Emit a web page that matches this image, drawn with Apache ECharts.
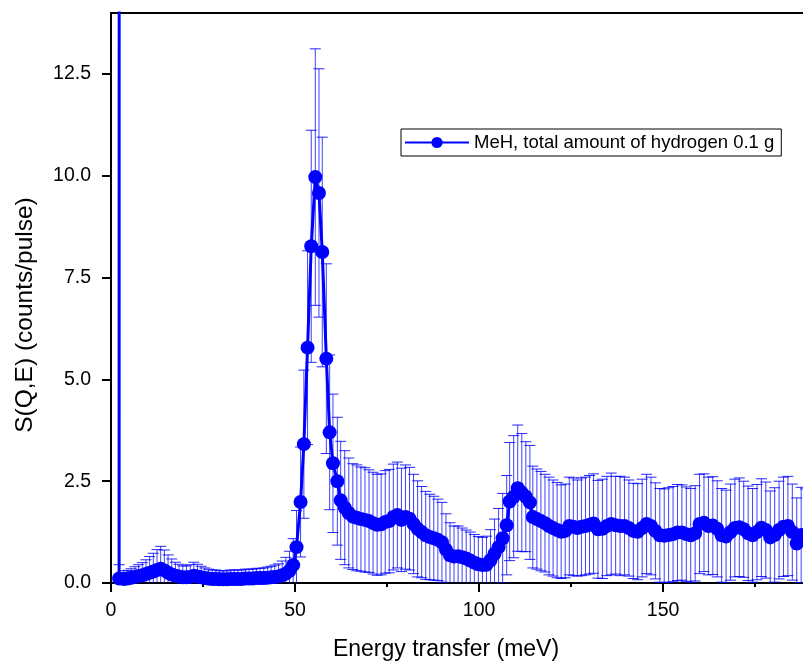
<!DOCTYPE html>
<html>
<head>
<meta charset="utf-8">
<script src="https://cdn.jsdelivr.net/npm/echarts@6/dist/echarts.min.js"></script>
<style>html,body{margin:0;padding:0;background:#fff;}#chart{width:803px;height:663px;}</style>
</head>
<body>
<div id="chart"></div>
<script>
// Energy transfer (meV)
const energy = [
 2.25, 2.2, 3.5, 4.5, 5.5, 6.5, 7.5, 8.5, 9.5, 10.5, 11.5, 12.5, 13.5, 14.5, 15.5, 16.5, 17.5, 18.5, 19.5, 20.5,
 21.5, 22.5, 23.5, 24.5, 25.5, 26.5, 27.5, 28.5, 29.5, 30.5, 31.5, 32.5, 33.5, 34.5, 35.5, 36.5, 37.5, 38.5, 39.5,
 40.5, 41.5, 42.5, 43.5, 44.5, 45.5, 46.5, 47.5, 48.5, 49.5,
 50.4, 51.5, 52.4, 53.4, 54.4, 55.5, 56.5, 57.4, 58.5, 59.4, 60.3, 61.5, 62.4,
 63.5, 64.6, 65.7, 66.8, 67.9, 69.0, 70.1, 71.2, 72.3, 73.4, 74.5, 75.6, 76.7, 77.8, 78.9, 80.0, 81.1, 82.2, 83.3,
 84.4, 85.5, 86.6, 87.7, 88.8, 89.9, 91.0, 92.1, 93.2, 94.3, 95.4, 96.5, 97.6, 98.7, 99.8, 100.9, 102.0, 103.1,
 104.2, 105.3, 106.4, 107.5, 108.3, 109.4, 110.5, 111.6, 112.7, 113.8, 114.6, 115.7, 116.8, 117.9, 119.0, 120.1,
 121.2, 122.3, 123.4, 124.5, 125.6, 126.7, 127.8, 128.9, 130.0, 131.1,
 132.3, 133.5, 134.7, 135.9, 137.1, 138.3, 139.5, 140.7, 141.9, 143.1, 144.3, 145.5, 146.7, 147.9, 149.1, 150.3,
 151.5, 152.7, 153.9, 155.1, 156.3, 157.5, 158.7, 159.9, 161.1, 162.3, 163.5, 164.7, 165.9, 167.1, 168.3, 169.5,
 170.7, 171.9, 173.1, 174.3, 175.5, 176.7, 177.9, 179.1, 180.3, 181.5, 182.7, 183.9, 185.1, 186.3, 187.5, 188.7
];
// S(Q,E) (counts/pulse)
const sqe = [
 40, 0.11, 0.10, 0.11, 0.13, 0.15, 0.17, 0.19, 0.22, 0.25, 0.28, 0.32, 0.35, 0.31, 0.25, 0.21, 0.18, 0.16, 0.14, 0.14,
 0.15, 0.18, 0.16, 0.14, 0.12, 0.11, 0.10, 0.10, 0.09, 0.09, 0.09, 0.10, 0.10, 0.10, 0.10, 0.11, 0.11, 0.11, 0.12,
 0.12, 0.12, 0.13, 0.14, 0.15, 0.16, 0.19, 0.23, 0.30, 0.44,
 0.88, 1.99, 3.41, 5.78, 8.27, 9.97, 9.58, 8.13, 5.51, 3.70, 2.94, 2.50, 2.03,
 1.85, 1.72, 1.63, 1.60, 1.57, 1.55, 1.52, 1.47, 1.43, 1.44, 1.50, 1.52, 1.62, 1.67, 1.55, 1.62, 1.58, 1.45, 1.33,
 1.25, 1.17, 1.13, 1.10, 1.06, 1.00, 0.82, 0.68, 0.65, 0.66, 0.63, 0.60, 0.55, 0.50, 0.46, 0.44, 0.45, 0.56,
 0.72, 0.88, 1.10, 1.42, 2.00, 2.12, 2.33, 2.22, 2.12, 1.98, 1.62, 1.57, 1.52, 1.47, 1.40, 1.35,
 1.30, 1.26, 1.28, 1.40, 1.38, 1.35, 1.38, 1.40, 1.43, 1.46,
 1.32, 1.33, 1.40, 1.45, 1.42, 1.40, 1.40, 1.35, 1.28, 1.26, 1.35, 1.45, 1.40, 1.28, 1.17, 1.16,
 1.18, 1.20, 1.24, 1.24, 1.20, 1.17, 1.22, 1.45, 1.48, 1.40, 1.41, 1.33, 1.17, 1.14, 1.25, 1.35,
 1.37, 1.32, 1.22, 1.17, 1.25, 1.36, 1.30, 1.12, 1.18, 1.30, 1.38, 1.40, 1.25, 0.97, 1.18, 1.15
];
// error (± counts/pulse)
const sqeErr = [
 0, 0.34, 0.20, 0.20, 0.22, 0.25, 0.28, 0.31, 0.35, 0.40, 0.45, 0.50, 0.55, 0.50, 0.44, 0.38, 0.33, 0.30, 0.28, 0.28,
 0.30, 0.33, 0.30, 0.27, 0.25, 0.23, 0.22, 0.22, 0.21, 0.21, 0.21, 0.22, 0.22, 0.22, 0.22, 0.23, 0.23, 0.23, 0.24,
 0.24, 0.25, 0.26, 0.27, 0.29, 0.31, 0.35, 0.40, 0.48, 0.65,
 0.90, 1.35, 1.82, 2.38, 2.85, 3.15, 3.05, 2.82, 2.33, 1.90, 1.70, 1.57, 1.45,
 1.40, 1.35, 1.30, 1.30, 1.28, 1.28, 1.26, 1.25, 1.24, 1.24, 1.26, 1.27, 1.30, 1.30, 1.27, 1.28, 1.26, 1.22, 1.18,
 1.12, 1.08, 1.05, 1.03, 1.00, 0.98, 0.88, 0.80, 0.75, 0.74, 0.72, 0.70, 0.70, 0.69, 0.68, 0.68, 0.70, 0.75,
 0.85, 0.95, 1.10, 1.22, 1.45, 1.50, 1.55, 1.45, 1.35, 1.40, 1.25, 1.23, 1.22, 1.20, 1.20, 1.18,
 1.17, 1.15, 1.15, 1.20, 1.20, 1.18, 1.20, 1.20, 1.21, 1.22,
 1.20, 1.22, 1.22, 1.25, 1.20, 1.22, 1.20, 1.18, 1.17, 1.18, 1.20, 1.22, 1.20, 1.18, 1.15, 1.15,
 1.16, 1.17, 1.18, 1.17, 1.16, 1.15, 1.17, 1.22, 1.20, 1.20, 1.20, 1.18, 1.15, 1.14, 1.18, 1.20,
 1.21, 1.18, 1.16, 1.15, 1.17, 1.20, 1.18, 1.14, 1.16, 1.20, 1.22, 1.22, 1.18, 1.12, 1.17, 1.16
];
const xMajorTicks = [0, 50, 100, 150];
const xMinorTicks = [25, 75, 125, 175];
const yTicks = [0, 2.5, 5, 7.5, 10, 12.5];
const seriesName = 'MeH, total amount of hydrogen 0.1 g';
const xTitle = 'Energy transfer (meV)';
const yTitle = 'S(Q,E) (counts/pulse)';

const FONT = '"Liberation Sans", Arial, sans-serif';
const lineData = energy.map((e, i) => [e, sqe[i]]);
const errData = [];
energy.forEach((e, i) => { if (sqeErr[i] > 0) errData.push([e, sqe[i] - sqeErr[i], sqe[i] + sqeErr[i]]); });

const chart = echarts.init(document.getElementById('chart'), null, {renderer: 'canvas'});
const axisLineStyle = {color: '#000', width: 2};
chart.setOption({
  animation: false,
  backgroundColor: '#fff',
  grid: {left: 111, right: 0, top: 13, bottom: 80, containLabel: false},
  legend: {
    data: [seriesName],
    left: 401, top: 129,
    orient: 'horizontal',
    borderColor: '#000', borderWidth: 1, borderRadius: 0,
    padding: [4, 7, 4, 3],
    itemWidth: 64, itemHeight: 14, itemGap: 4,
    textStyle: {fontFamily: FONT, fontSize: 18.5, color: '#000', padding: [0, 0, 0, 0]}
  },
  xAxis: [
    {
      type: 'value', min: 0, max: 188, interval: 50, position: 'bottom',
      axisLine: {show: true, onZero: false, lineStyle: axisLineStyle},
      axisTick: {show: true, length: 9, lineStyle: {color: '#000', width: 2}, customValues: xMajorTicks},
      axisLabel: {customValues: xMajorTicks, fontFamily: FONT, fontSize: 19.5, color: '#000', margin: 18},
      splitLine: {show: false}
    },
    {
      type: 'value', min: 0, max: 188, interval: 25, position: 'bottom',
      axisLine: {show: false, onZero: false},
      axisTick: {show: true, length: 4, lineStyle: {color: '#000', width: 2}, customValues: xMinorTicks},
      axisLabel: {show: false},
      splitLine: {show: false}
    },
    {
      type: 'value', min: 0, max: 188, position: 'top',
      axisLine: {show: true, onZero: false, lineStyle: axisLineStyle},
      axisTick: {show: false}, axisLabel: {show: false}, splitLine: {show: false}
    }
  ],
  yAxis: {
    type: 'value', min: 0, max: 14, interval: 2.5,
    axisLine: {show: true, onZero: false, lineStyle: axisLineStyle},
    axisTick: {show: true, length: 9, lineStyle: {color: '#000', width: 2}, customValues: yTicks},
    axisLabel: {customValues: yTicks, fontFamily: FONT, fontSize: 19.5, color: '#000', margin: 20,
      formatter: v => v.toFixed(1)},
    splitLine: {show: false}
  },
  graphic: [
    {type: 'text', x: 446, y: 650, style: {text: xTitle, fontFamily: FONT, fontSize: 23, fill: '#000', align: 'center', verticalAlign: 'middle'}},
    {type: 'text', x: 25, y: 315, rotation: Math.PI / 2, style: {text: yTitle, fontFamily: FONT, fontSize: 24.5, fill: '#000', align: 'center', verticalAlign: 'middle'}}
  ],
  series: [
    {
      type: 'custom', name: 'err', xAxisIndex: 0, clip: true, z: 1, silent: true,
      data: errData,
      encode: {x: 0, y: [1, 2]},
      renderItem: function (params, api) {
        const x = api.value(0);
        const lo = api.coord([x, api.value(1)]);
        const hi = api.coord([x, api.value(2)]);
        const hw = 5.5;
        return {
          type: 'group',
          children: [
            {type: 'line', shape: {x1: lo[0], y1: lo[1], x2: hi[0], y2: hi[1]}, style: {stroke: 'rgba(0,0,255,0.75)', lineWidth: 1}},
            {type: 'line', shape: {x1: hi[0] - hw, y1: hi[1], x2: hi[0] + hw, y2: hi[1]}, style: {stroke: 'rgba(0,0,255,0.85)', lineWidth: 1}},
            {type: 'line', shape: {x1: lo[0] - hw, y1: lo[1], x2: lo[0] + hw, y2: lo[1]}, style: {stroke: 'rgba(0,0,255,0.85)', lineWidth: 1}}
          ]
        };
      }
    },
    {
      type: 'line', name: seriesName, xAxisIndex: 0, z: 3,
      data: lineData,
      clip: true,
      symbol: 'circle', symbolSize: 14, showAllSymbol: true,
      lineStyle: {color: '#0000ff', width: 3},
      itemStyle: {color: '#0000ff'},
      emphasis: {disabled: true}
    }
  ]
});
</script>
</body>
</html>
